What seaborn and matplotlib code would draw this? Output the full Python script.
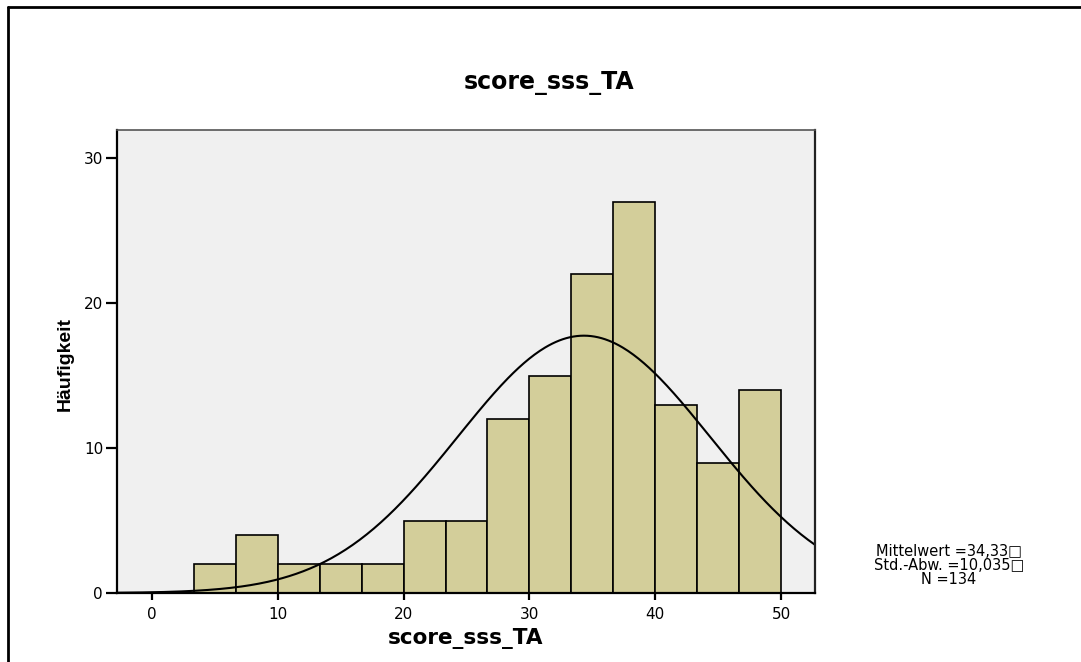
import numpy as np
import seaborn as sns
import matplotlib.pyplot as plt
from matplotlib.lines import Line2D

# histogram bins and counts
bin_edges = [10 / 3 * i for i in range(1, 16)]
counts = [2, 4, 2, 2, 2, 5, 5, 12, 15, 22, 27, 13, 9, 14]
bin_centers = [(a + b) / 2 for a, b in zip(bin_edges[:-1], bin_edges[1:])]

mean_val = 34.33
sd_val = 10.035
n_val = 134

x_ticks = [0, 10, 20, 30, 40, 50]
y_ticks = [0, 10, 20, 30]

sns.set_style("white")
plt.rcParams['font.family'] = ['DejaVu Sans']
plt.rcParams['text.color'] = 'black'
plt.rcParams['axes.labelcolor'] = 'black'
plt.rcParams['xtick.color'] = 'black'
plt.rcParams['ytick.color'] = 'black'

fig = plt.figure(figsize=(10.81, 6.62), dpi=100)
ax = fig.add_axes([117 / 1081, 1 - 593 / 662, 698 / 1081, 463 / 662])
ax.set_facecolor('#f0f0f0')

sns.histplot(x=bin_centers, weights=counts, bins=bin_edges, ax=ax,
             color='#d3ce9a', edgecolor='black', linewidth=1.2, alpha=1)

# normal curve scaled to counts
xs = np.linspace(-3, 53, 400)
bw = bin_edges[1] - bin_edges[0]
ys = n_val * bw / (sd_val * np.sqrt(2 * np.pi)) * np.exp(-0.5 * ((xs - mean_val) / sd_val) ** 2)
ax.plot(xs, ys, color='black', linewidth=1.5)

ax.set_xlim(-2.78, 52.7)
ax.set_ylim(0, 31.95)
ax.set_xticks(x_ticks)
ax.set_yticks(y_ticks)
ax.tick_params(axis='x', bottom=True, direction='out', length=5, width=1.6, labelsize=11, pad=5)
ax.tick_params(axis='y', left=True, direction='out', length=8, width=1.6, labelsize=11, pad=2)
for side in ['left', 'bottom']:
    ax.spines[side].set_color('black')
    ax.spines[side].set_linewidth(1.6)
ax.spines['right'].set_color('#222222')
ax.spines['right'].set_linewidth(1.6)
ax.spines['top'].set_color('#555555')
ax.spines['top'].set_linewidth(1.2)

ax.set_xlabel('score_sss_TA', fontsize=15.5, fontweight='bold')
ax.xaxis.set_label_coords(0.5, -0.076)
ax.set_ylabel('Häufigkeit', fontsize=14, fontweight='bold',
              family=['Liberation Sans', 'DejaVu Sans'])
ax.yaxis.set_label_coords(-0.062, 0.495)

fig.text(549 / 1081, 1 - 83 / 662, 'score_sss_TA', ha='center', va='center',
         fontsize=17, fontweight='bold')

stats = ['Mittelwert =34,33\u25a1', 'Std.-Abw. =10,035\u25a1', 'N =134']
for i, line in enumerate(stats):
    fig.text(949 / 1081, 1 - (552 + 13.5 * i) / 662, line, ha='center', va='center',
             fontsize=10.5)

# outer frame (top and left edges visible)
fig.add_artist(Line2D([8 / 1081, 1], [1 - 7 / 662, 1 - 7 / 662], color='black', linewidth=2,
                      transform=fig.transFigure))
fig.add_artist(Line2D([8 / 1081, 8 / 1081], [0, 1 - 7 / 662], color='black', linewidth=2,
                      transform=fig.transFigure))

fig.savefig('out.png', dpi=100)
